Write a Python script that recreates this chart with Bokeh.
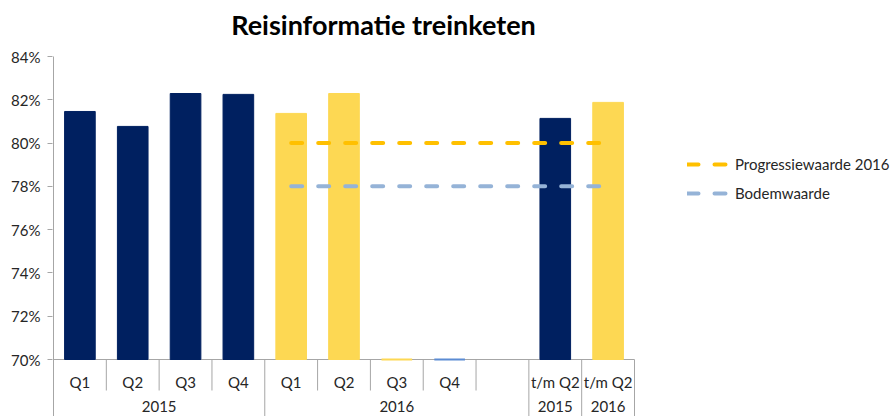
import math
from bokeh.plotting import figure
from bokeh.models import (ColumnDataSource, FixedTicker, PrintfTickFormatter, Range1d,
                          Legend, LegendItem, LinearAxis)
from bokeh.core.properties import value
from bokeh.embed import file_html
from bokeh.resources import INLINE

NaN = float("nan")

# ---------------- data ----------------
chart_title = "Reisinformatie treinketen"
quarters = ["Q1", "Q2", "Q3", "Q4", "Q1", "Q2", "Q3", "Q4", "", "t/m Q2", "t/m Q2"]
year_groups = ["2015", "2016", "2015", "2016"]
year_group_sizes = [4, 5, 1, 1]
reisinformatie = [81.46, 80.77, 82.29, 82.25, 81.37, 82.29, 70.0, 70.0, NaN, 81.14, 81.88]
progressiewaarde_2016 = [NaN, NaN, NaN, NaN, 80.0, 80.0, 80.0, 80.0, 80.0, 80.0, 80.0]
bodemwaarde = [NaN, NaN, NaN, NaN, 78.0, 78.0, 78.0, 78.0, 78.0, 78.0, 78.0]
y_ticks = [70, 72, 74, 76, 78, 80, 82, 84]

# ---------------- styles ----------------
NAVY = "#002060"
GOLD = "#FDD853"
BLUE_THIN = "#5B8BD3"
bar_colors = [NAVY, NAVY, NAVY, NAVY, GOLD, GOLD, GOLD, BLUE_THIN, GOLD, NAVY, GOLD]
PROG_COLOR = "#FFC000"
BODEM_COLOR = "#95B3D7"
AXIS_COLOR = "#A6A6A6"
TEXT_COLOR = "#262626"
FONT = "Lato"

# ---------------- layout ----------------
W, H = 890, 416
BORDER_LEFT = 52
PX_PER_CAT = 581 / 11.0
PX_PER_PCT = 303 / 14.0
Y_MIN, Y_MAX = y_ticks[0], y_ticks[-1]
x_start = -1.0 / PX_PER_CAT
x_end = x_start + (W - BORDER_LEFT) / PX_PER_CAT
y_start = Y_MIN - 57 / PX_PER_PCT
y_end = Y_MAX + 56 / PX_PER_PCT

p = figure(width=W, height=H, output_backend="svg", toolbar_location=None,
           x_range=Range1d(x_start, x_end), y_range=Range1d(y_start, y_end),
           x_axis_location=None, y_axis_location=None,
           min_border_left=BORDER_LEFT, min_border_right=0,
           min_border_top=0, min_border_bottom=0)
p.outline_line_color = None
p.xgrid.visible = False
p.ygrid.visible = False
p.background_fill_color = "white"
p.border_fill_color = "white"

yaxis = LinearAxis(ticker=FixedTicker(ticks=y_ticks),
                   formatter=PrintfTickFormatter(format="%d%%"))
yaxis.axis_line_color = None
yaxis.major_tick_line_color = AXIS_COLOR
yaxis.major_tick_out = 5
yaxis.major_tick_in = 0
yaxis.minor_tick_line_color = None
yaxis.major_label_standoff = 7
yaxis.major_label_text_font = FONT
yaxis.major_label_text_font_size = "15px"
yaxis.major_label_text_color = TEXT_COLOR
p.add_layout(yaxis, "left")

n = len(quarters)
centers = [i + 0.5 for i in range(n)]

# axis lines
p.segment(x0=[0], y0=[Y_MAX], x1=[0], y1=[y_start], line_color=AXIS_COLOR, line_width=1)
p.segment(x0=[0], y0=[Y_MIN], x1=[n], y1=[Y_MIN], line_color=AXIS_COLOR, line_width=1)

# bars
src = ColumnDataSource(dict(
    x=centers, top=reisinformatie, color=bar_colors,
    lw=[2 if (not math.isnan(v) and v <= Y_MIN) else 1 for v in reisinformatie]))
p.vbar(x="x", top="top", bottom=Y_MIN, width=0.58, fill_color="color",
       line_color="color", line_width="lw", source=src)

# category separators
group_bounds = [0]
for s in year_group_sizes:
    group_bounds.append(group_bounds[-1] + s)
short_end = Y_MIN - 31 / PX_PER_PCT
sx, sy0, sy1 = [], [], []
for b in range(1, n + 1):
    sx.append(b)
    sy0.append(Y_MIN)
    sy1.append(y_start if b in group_bounds else short_end)
p.segment(x0=sx, y0=sy0, x1=sx, y1=sy1, line_color=AXIS_COLOR, line_width=1)

# category labels
q_y = Y_MIN - 22 / PX_PER_PCT
p.text(x=centers, y=[q_y] * n, text=quarters, text_align="center",
       text_baseline="middle", text_font=value(FONT), text_font_size="15px",
       text_color=TEXT_COLOR)
g_y = Y_MIN - 47 / PX_PER_PCT
g_x = [(group_bounds[i] + group_bounds[i + 1]) / 2 for i in range(len(year_groups))]
p.text(x=g_x, y=[g_y] * len(year_groups), text=year_groups, text_align="center",
       text_baseline="middle", text_font=value(FONT), text_font_size="15px",
       text_color=TEXT_COLOR)

# target lines
r_prog = p.line(x=centers, y=progressiewaarde_2016, line_color=PROG_COLOR, line_width=4,
                line_dash="11 16", line_cap="round")
r_bodem = p.line(x=centers, y=bodemwaarde, line_color=BODEM_COLOR, line_width=4,
                 line_dash="11 16", line_cap="round")

# title
p.text(x=[(383 - 53) / PX_PER_CAT], y=[Y_MAX + 32 / PX_PER_PCT], text=[chart_title],
       text_align="center", text_baseline="middle", text_font=value(FONT),
       text_font_size="27px", text_font_style="bold", text_color="black")

legend = Legend(items=[LegendItem(label="Progressiewaarde 2016", renderers=[r_prog]),
                       LegendItem(label="Bodemwaarde", renderers=[r_bodem])],
                location=(635, 213), padding=0, margin=0, spacing=9,
                glyph_width=41, glyph_height=20, label_height=20, label_standoff=7,
                label_text_font=FONT, label_text_font_size="15px",
                label_text_color=TEXT_COLOR, border_line_color=None,
                background_fill_alpha=0)
p.add_layout(legend, "center")

open("out.html", "w").write(file_html(p, INLINE))
